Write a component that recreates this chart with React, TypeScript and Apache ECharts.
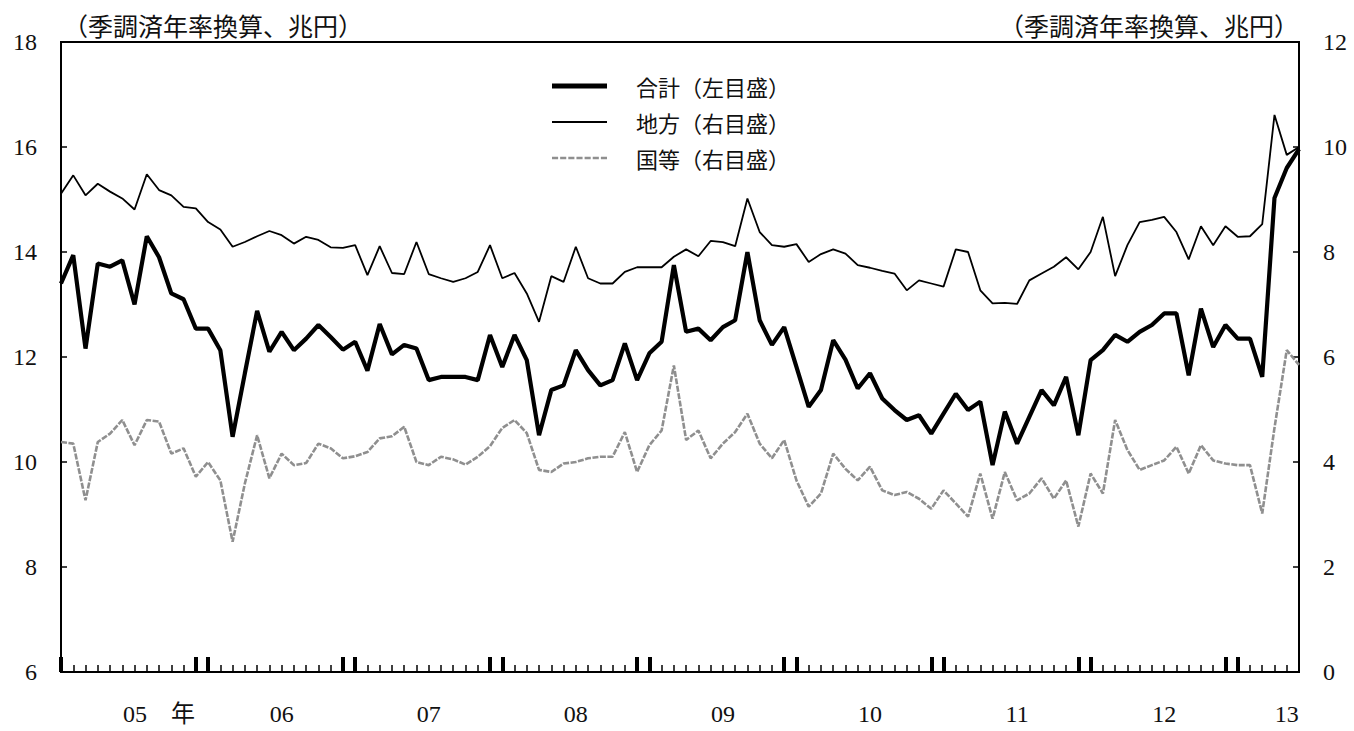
import React, { useEffect, useRef } from "react";
import * as echarts from "echarts";

// 合計（左目盛）
const total = [
  13.4, 13.94, 12.16, 13.78, 13.72, 13.84, 13.0, 14.3, 13.9, 13.21,
  13.1, 12.54, 12.54, 12.13, 10.48, 11.69, 12.88, 12.1, 12.48, 12.13,
  12.35, 12.61, 12.38, 12.14, 12.29, 11.74, 12.63, 12.05, 12.23, 12.16,
  11.56, 11.62, 11.62, 11.62, 11.56, 12.42, 11.81, 12.42, 11.94, 10.51,
  11.37, 11.46, 12.13, 11.75, 11.46, 11.56, 12.26, 11.56, 12.07, 12.29,
  13.75, 12.48, 12.54, 12.32, 12.57, 12.7, 14.0, 12.7, 12.23, 12.57,
  11.81, 11.05, 11.37, 12.32, 11.95, 11.4, 11.69, 11.21, 10.99, 10.8,
  10.89, 10.54, 10.92, 11.3, 10.99, 11.15, 9.94, 10.96, 10.35, 10.86,
  11.37, 11.08, 11.62, 10.51, 11.94, 12.13, 12.42, 12.29, 12.48, 12.61,
  12.83, 12.83, 11.65, 12.92, 12.19, 12.61, 12.35, 12.35, 11.62, 15.03,
  15.6, 15.96,
];

// 地方（右目盛）
const local = [
  9.11, 9.46, 9.08, 9.3, 9.15, 9.02, 8.81, 9.48, 9.18, 9.08,
  8.86, 8.83, 8.57, 8.43, 8.1, 8.19, 8.3, 8.4, 8.32, 8.16,
  8.29, 8.23, 8.09, 8.08, 8.13, 7.56, 8.11, 7.6, 7.58, 8.19,
  7.58, 7.5, 7.43, 7.5, 7.62, 8.13, 7.5, 7.6, 7.21, 6.67,
  7.54, 7.43, 8.1, 7.5, 7.4, 7.4, 7.62, 7.71, 7.71, 7.71,
  7.91, 8.05, 7.92, 8.21, 8.19, 8.11, 9.02, 8.38, 8.13, 8.1,
  8.15, 7.81, 7.96, 8.05, 7.97, 7.75, 7.7, 7.64, 7.59, 7.27,
  7.46, 7.4, 7.34, 8.05, 8.0, 7.27, 7.02, 7.03, 7.01, 7.46,
  7.59, 7.72, 7.9, 7.67, 8.0, 8.67, 7.54, 8.13, 8.57, 8.61,
  8.67, 8.38, 7.86, 8.49, 8.13, 8.49, 8.29, 8.3, 8.53, 10.61,
  9.85, 10.0,
];

// 国等（右目盛）
const gov = [
  4.38, 4.35, 3.27, 4.38, 4.54, 4.8, 4.32, 4.8, 4.77, 4.16,
  4.26, 3.72, 4.0, 3.65, 2.48, 3.59, 4.51, 3.69, 4.16, 3.94,
  3.98, 4.35, 4.26, 4.07, 4.11, 4.19, 4.45, 4.49, 4.67, 4.0,
  3.94, 4.1, 4.05, 3.95, 4.1, 4.3, 4.65, 4.8, 4.55, 3.85,
  3.81, 3.97, 4.0, 4.07, 4.1, 4.1, 4.57, 3.81, 4.32, 4.6,
  5.84, 4.42, 4.6, 4.07, 4.35, 4.57, 4.92, 4.35, 4.07, 4.42,
  3.65, 3.15, 3.4, 4.16, 3.87, 3.65, 3.91, 3.46, 3.37, 3.43,
  3.3, 3.11, 3.46, 3.21, 2.96, 3.78, 2.92, 3.81, 3.27, 3.4,
  3.69, 3.3, 3.65, 2.77, 3.78, 3.4, 4.8, 4.23, 3.85, 3.94,
  4.03, 4.29, 3.78, 4.32, 4.03, 3.97, 3.94, 3.94, 3.02, 4.65,
  6.13, 5.85,
];

const startYear = 2005;
const months: string[] = [];
for (let i = 0; i < total.length; i++) {
  const y = startYear + Math.floor(i / 12);
  const m = (i % 12) + 1;
  months.push(`${y}-${String(m).padStart(2, "0")}`);
}

const yearLabelIndex = [8, 18, 30, 42, 54, 66, 78, 90, 100];
const yearLabelText = ["05    年", "06", "07", "08", "09", "10", "11", "12", "13"];

const seriesNames = ["合計（左目盛）", "地方（右目盛）", "国等（右目盛）"];
const unitLabel = "（季調済年率換算、兆円）";

const NUM_FONT = "'Liberation Serif', 'Times New Roman', 'Noto Sans CJK JP', serif";
const CJK_FONT = "'Noto Sans CJK JP', 'Noto Sans', sans-serif";

const ICON_THICK = "path://M0,0h55v5h-55z";
const ICON_THIN = "path://M0,0h55v2h-55z";
const ICON_DASH =
  "path://M0,0h6v2.5h-6z M8,0h6v2.5h-6z M16,0h6v2.5h-6z M24,0h6v2.5h-6z M32,0h6v2.5h-6z M40,0h6v2.5h-6z M48,0h6v2.5h-6z";

export default function App() {
  const ref = useRef<HTMLDivElement>(null);

  useEffect(() => {
    if (!ref.current) return;
    const chart = echarts.init(ref.current, undefined, { renderer: "svg" });
    const option: any = {
      animation: false,
      backgroundColor: "#ffffff",
      grid: {
        left: 61,
        right: 55,
        top: 42,
        bottom: 59,
        show: true,
        borderColor: "#000",
        borderWidth: 2,
        backgroundColor: "transparent",
      },
      legend: {
        data: [
          { name: seriesNames[0], icon: ICON_THICK },
          { name: seriesNames[1], icon: ICON_THIN },
          { name: seriesNames[2], icon: ICON_DASH },
        ],
        orient: "vertical",
        left: 547,
        top: 70,
        itemWidth: 55,
        itemHeight: 14,
        itemGap: 14,
        textStyle: {
          fontFamily: CJK_FONT,
          fontSize: 22,
          color: "#111",
          padding: [0, 0, 0, 24],
        },
      },
      xAxis: [
        {
          type: "category",
          data: months,
          boundaryGap: false,
          position: "bottom",
          axisLine: { show: true, lineStyle: { color: "#000", width: 2 } },
          axisTick: {
            show: true,
            inside: true,
            length: 7,
            interval: 0,
            lineStyle: { color: "#000", width: 1.5 },
          },
          axisLabel: {
            show: true,
            interval: (index: number) => yearLabelIndex.indexOf(index) >= 0,
            formatter: (_v: string, index: number) => {
              const k = yearLabelIndex.indexOf(index);
              return k >= 0 ? yearLabelText[k] : "";
            },
            margin: 30,
            fontFamily: NUM_FONT,
            fontSize: 24,
            color: "#111",
          },
          splitLine: { show: false },
        },
        {
          type: "category",
          data: months,
          boundaryGap: false,
          position: "bottom",
          axisLine: { show: false },
          axisTick: {
            show: true,
            inside: true,
            length: 15,
            interval: (index: number) => index % 12 === 0 || index % 12 === 11,
            lineStyle: { color: "#000", width: 4 },
          },
          axisLabel: { show: false },
          splitLine: { show: false },
        },
      ],
      yAxis: [
        {
          type: "value",
          min: 6,
          max: 18,
          interval: 2,
          position: "left",
          name: unitLabel,
          nameLocation: "end",
          nameGap: 5,
          nameTextStyle: {
            align: "left",
            fontFamily: CJK_FONT,
            fontSize: 25,
            color: "#111",
            padding: [0, 0, 0, 2],
          },
          axisLine: { show: true, lineStyle: { color: "#000", width: 2 } },
          axisTick: { show: true, inside: true, length: 6, lineStyle: { color: "#000", width: 1.5 } },
          axisLabel: { margin: 24, fontFamily: NUM_FONT, fontSize: 24, color: "#111" },
          splitLine: { show: false },
        },
        {
          type: "value",
          min: 0,
          max: 12,
          interval: 2,
          position: "right",
          name: unitLabel,
          nameLocation: "end",
          nameGap: 5,
          nameTextStyle: {
            align: "right",
            fontFamily: CJK_FONT,
            fontSize: 25,
            color: "#111",
            padding: [0, 0, 0, 0],
          },
          axisLine: { show: true, lineStyle: { color: "#000", width: 2 } },
          axisTick: { show: true, inside: true, length: 6, lineStyle: { color: "#000", width: 1.5 } },
          axisLabel: { margin: 24, fontFamily: NUM_FONT, fontSize: 24, color: "#111" },
          splitLine: { show: false },
        },
      ],
      series: [
        {
          name: seriesNames[2],
          type: "line",
          xAxisIndex: 0,
          yAxisIndex: 1,
          data: gov,
          symbol: "none",
          lineStyle: { color: "#8f8f8f", width: 2.6, type: [6, 1.5] },
          itemStyle: { color: "#8f8f8f" },
          z: 2,
        },
        {
          name: seriesNames[1],
          type: "line",
          xAxisIndex: 0,
          yAxisIndex: 1,
          data: local,
          symbol: "none",
          lineStyle: { color: "#000", width: 1.8 },
          itemStyle: { color: "#000" },
          z: 3,
        },
        {
          name: seriesNames[0],
          type: "line",
          xAxisIndex: 0,
          yAxisIndex: 0,
          data: total,
          symbol: "none",
          lineStyle: { color: "#000", width: 4.2 },
          itemStyle: { color: "#000" },
          z: 4,
        },
      ],
    };
    chart.setOption(option);
    return () => chart.dispose();
  }, []);

  return (
    <div
      ref={ref}
      style={{ position: "absolute", left: 0, top: 0, width: 1354, height: 731, background: "#fff" }}
    />
  );
}
